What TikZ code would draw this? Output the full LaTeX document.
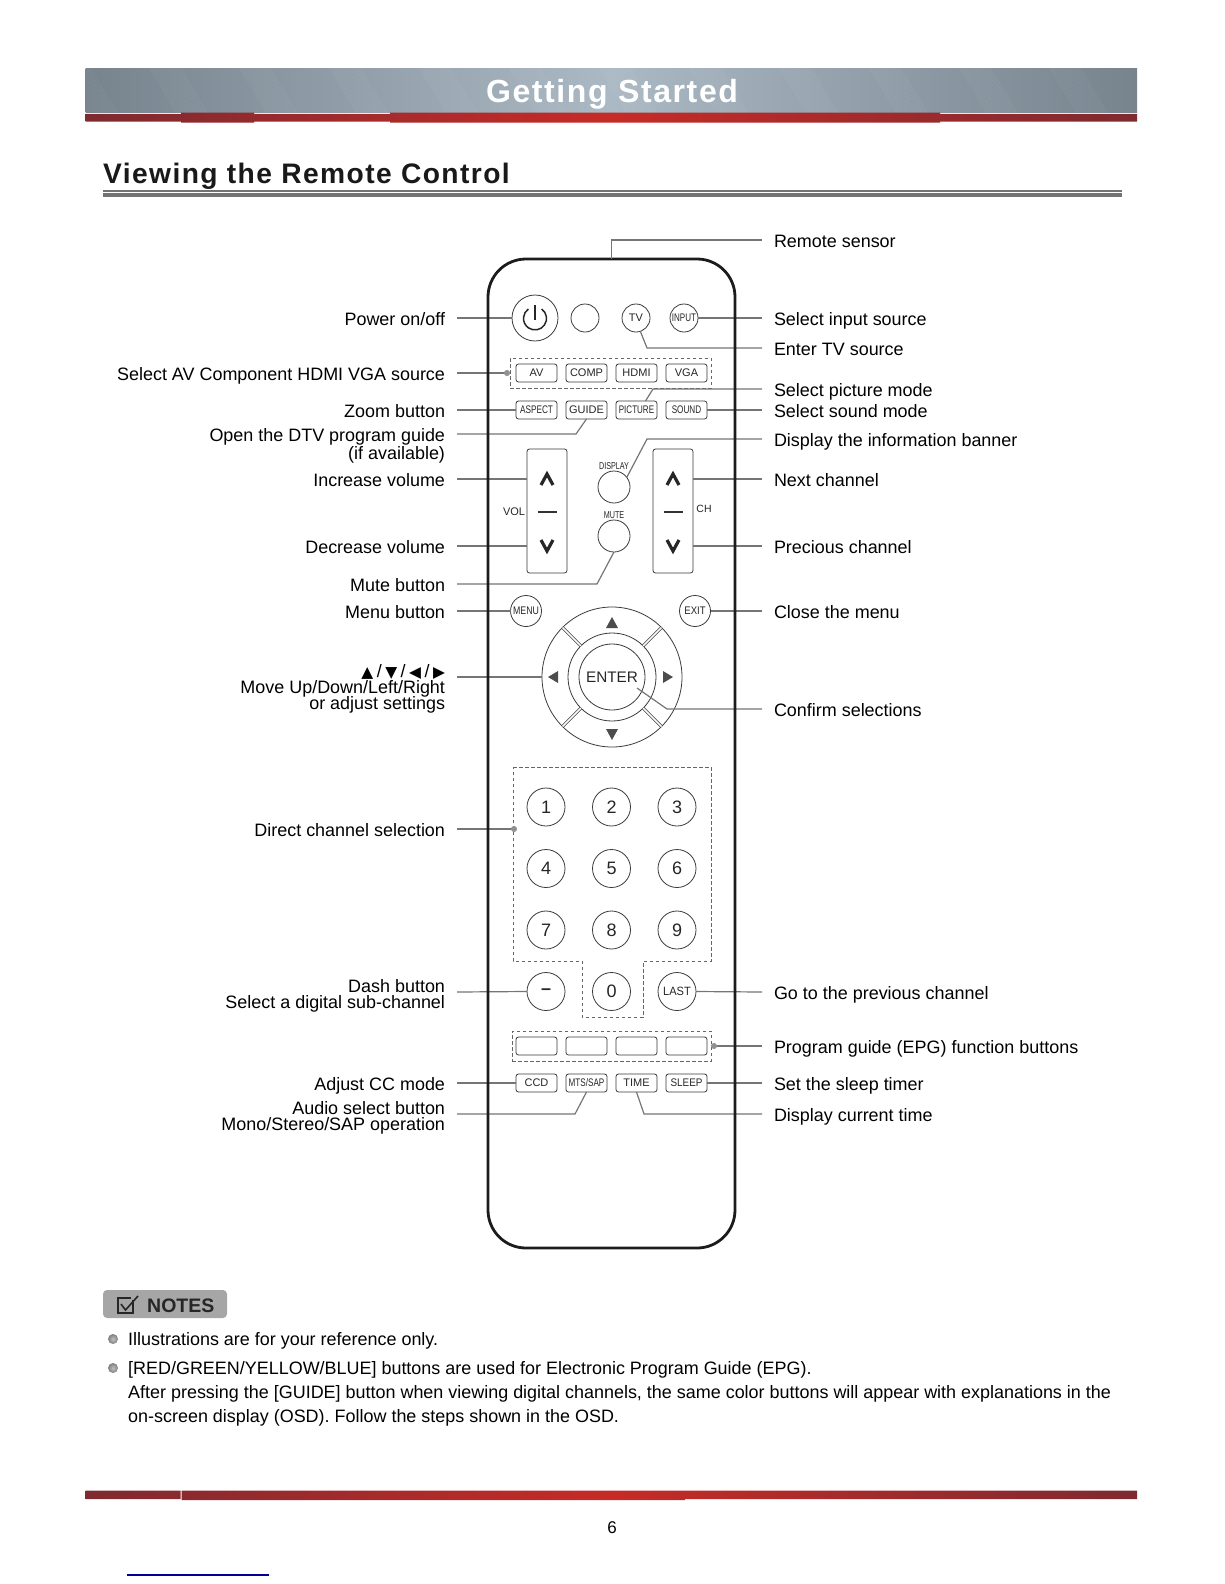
\documentclass[tikz,border=0pt]{standalone}
\usepackage{fontspec}
\usepackage{tikz}
\usetikzlibrary{
	arrows.meta,
	positioning,
	calc
}
\setmainfont{Liberation Sans}
\newfontfamily\simbolos{DejaVu Sans}
\newfontfamily\espacada[LetterSpace=5]{Liberation Sans}
\newcommand{\apertado}[2]{\scalebox{#1}[1]{#2}}
\newcommand{\tri}[1]{{\simbolos\fontsize{15.5}{16}\selectfont #1}}

\definecolor{guia}{HTML}{757575}
\definecolor{contorno}{HTML}{3A3A3A}
\definecolor{corpo}{HTML}{1C1C1C}
\definecolor{vermelho}{HTML}{C62B27}
\definecolor{vinho}{HTML}{7E2A30}
\definecolor{faixaa}{HTML}{77838D}
\definecolor{faixab}{HTML}{ABB9C4}

\begin{document}
\begin{tikzpicture}[
			x=1pt,
			y=-1pt,
			font=\fontsize{17.95}{18}\selectfont,
			esq/.style={anchor=east, inner sep=0pt, text height=14.4pt, text depth=0pt, outer xsep=12pt, outer ysep=0pt},
			dir/.style={anchor=west, inner sep=0pt, text height=14.4pt, text depth=0pt, outer xsep=12pt, outer ysep=0pt},
			nota/.style={anchor=west, inner sep=0pt, text height=12.6pt, text depth=0pt},
			guialinha/.style={draw=guia, line width=1.2pt},
			componto/.style={guialinha, -{Circle[length=6pt, color=guia!80]}},
			tecla/.style={
					draw=contorno,
					line width=0.8pt,
					rounded corners=2.5pt,
					minimum width=41pt,
					minimum height=18pt,
					inner sep=0pt,
					outer sep=0pt,
					text=black!85,
					font=\fontsize{11}{11}\selectfont
				},
			redondo/.style={
					draw=contorno,
					line width=0.8pt,
					circle,
					minimum size=#1,
					inner sep=0pt,
					outer sep=0pt,
					text=black!85,
					font=\fontsize{11}{11}\selectfont
				},
			redondo/.default=28pt,
			numero/.style={redondo=38pt, font=\fontsize{18}{18}\selectfont},
			tracado/.style={draw=black!60, line width=0.8pt, dash pattern=on 3.5pt off 2.5pt},
			divisa/.style={line width=3.2pt, draw=black!85},
			traco/.style={line width=1.4pt, draw=black!80},
			seta/.style={fill=black!70, draw=none},
			pequeno/.style={inner sep=0pt, text=black!85, font=\fontsize{11}{11}\selectfont}
		]
		\useasboundingbox (0,0) rectangle (1224,1584);

		% cabecalho
		\shade[left color=faixaa, right color=faixaa, middle color=faixab] (85.5,68.5) rectangle (1137,113);
		\begin{scope}
			\clip (85.5,68.5) rectangle (1137,113);
			\foreach \g in {60,150,...,1140} {
				\foreach \d in {0,2.5,...,30} {
					\draw[white, opacity=0.09, line width=0.5pt] (\g+\d,68) -- (\g+\d+27,113);
				}
			}
		\end{scope}
		\begin{scope}
			\clip (85.5,114) rectangle (1137,121.7) (181,112.7) rectangle (254,122.7) (390,112.7) rectangle (940,122.7);
			\shade[left color=vinho, right color=vinho, middle color=vermelho] (85.5,112) rectangle (1137,123);
		\end{scope}
		\node[anchor=base, inner sep=0pt, text=white, font=\fontsize{32}{32}\selectfont\espacada\bfseries] (titulo) at (612,103) {Getting Started};
		\node[anchor=base west, inner sep=0pt, text=black!90, font=\fontsize{28.2}{28}\selectfont\espacada\bfseries] (secao) at (103,183.5) {Viewing the Remote Control};
		\fill[black!55] (103,190) rectangle (1121.5,191.5);
		\fill[black!55] (103,193) rectangle (1121.5,197);

		% teclas
		\node[redondo=46pt] (bPower) at (535,318) {};
		\draw[line width=1.5pt, black!85] (bPower.center) ++(6.6,-9) arc[start angle=-55, end angle=235, radius=11.5];
		\draw[line width=1.5pt, black!85] (535,305) -- (535,320);
		\node[redondo] (bBlank) at (585,318) {};
		\node[redondo] (bTV) at (636,318) {TV};
		\node[redondo] (bInput) at (684,318) {\apertado{0.73}{INPUT}};

		\node[tecla] (bAV) at (536.5,373) {AV};
		\node[tecla, right=9pt of bAV] (bComp) {COMP};
		\node[tecla, right=9pt of bComp] (bHdmi) {HDMI};
		\node[tecla, right=9pt of bHdmi] (bVga) {VGA};
		\node[tracado, minimum width=201pt, minimum height=30pt, inner sep=0pt, outer sep=0pt] (caixaAV) at (610.5,373) {};

		\node[tecla] (bAspect) at (536.5,410) {\apertado{0.75}{ASPECT}};
		\node[tecla, right=9pt of bAspect] (bGuide) {GUIDE};
		\node[tecla, right=9pt of bGuide] (bPicture) {\apertado{0.73}{PICTURE}};
		\node[tecla, right=9pt of bPicture] (bSound) {\apertado{0.74}{SOUND}};

		\node[tecla, minimum width=40pt, minimum height=124pt] (bVol) at (547,511) {};
		\node[tecla, minimum width=40pt, minimum height=124pt] (bCh) at (673,511) {};
		\draw[divisa] (541,485) -- (547,474) -- (553,485);
		\draw[divisa] (667,485) -- (673,474) -- (679,485);
		\draw[traco] (537.5,512) -- (556.5,512);
		\draw[traco] (663.5,512) -- (682.5,512);
		\draw[divisa] (541,540) -- (547,551) -- (553,540);
		\draw[divisa] (667,540) -- (673,551) -- (679,540);
		\node[pequeno] (tVol) at (514,512) {VOL};
		\node[pequeno, font=\fontsize{10.5}{11}\selectfont] (tCh) at (704,509) {CH};
		\node[redondo=32pt] (bDisplay) at (614,487) {};
		\node[redondo=32pt] (bMute) at (614,536) {};
		\node[pequeno, above=1pt of bDisplay, font=\fontsize{10}{10}\selectfont] (tDisplay) {\apertado{0.72}{DISPLAY}};
		\node[pequeno, above=1pt of bMute, font=\fontsize{10}{10}\selectfont] (tMute) {\apertado{0.72}{MUTE}};

		\node[redondo=31pt] (bMenu) at (526,611) {\apertado{0.8}{MENU}};
		\node[redondo=31pt] (bExit) at (695,611) {\apertado{0.87}{EXIT}};

		\node[redondo=140pt] (cExt) at (612,677) {};
		\node[redondo=88pt] (cMed) at (612,677) {};
		\node[redondo=66pt, font=\fontsize{15.3}{16}\selectfont] (bEnter) at (612,677) {ENTER};
		\foreach \a in {45,135,225,315} {
			\draw[line width=0.7pt, draw=contorno, double=white, double distance=1.6pt] (cExt.\a) -- (cMed.\a);
		}
		\fill[seta] (606,628) -- (618,628) -- (612,617) -- cycle;
		\fill[seta] (606,729) -- (618,729) -- (612,740) -- cycle;
		\fill[seta] (558,671) -- (558,683) -- (548,677) -- cycle;
		\fill[seta] (663,671) -- (663,683) -- (673,677) -- cycle;

		\draw[tracado] (513,767) -- (711,767) -- (711,961) -- (643,961) -- (643,1017) -- (582,1017) -- (582,961) -- (513,961) -- cycle;
		\node[numero] (n1) at (546,807) {1};
		\node[numero, right=27.5pt of n1] (n2) {2};
		\node[numero, right=27.5pt of n2] (n3) {3};
		\node[numero, below=23.5pt of n1] (n4) {4};
		\node[numero, right=27.5pt of n4] (n5) {5};
		\node[numero, right=27.5pt of n5] (n6) {6};
		\node[numero, below=23.5pt of n4] (n7) {7};
		\node[numero, right=27.5pt of n7] (n8) {8};
		\node[numero, right=27.5pt of n8] (n9) {9};
		\node[numero, below=23.5pt of n7] (bDash) {\raisebox{-1pt}{\bfseries --}};
		\node[numero, right=27.5pt of bDash] (n0) {0};
		\node[redondo=38pt, font=\fontsize{12}{12}\selectfont, right=27.5pt of n0] (bLast) {\apertado{0.92}{LAST}};

		\node[tecla] (bCorA) at (536.5,1046) {};
		\node[tecla, right=9pt of bCorA] (bCorB) {};
		\node[tecla, right=9pt of bCorB] (bCorC) {};
		\node[tecla, right=9pt of bCorC] (bCorD) {};
		\node[tracado, minimum width=199pt, minimum height=30pt, inner sep=0pt, outer sep=0pt] (caixaCor) at (611.5,1046) {};

		\node[tecla] (bCcd) at (536.5,1083) {CCD};
		\node[tecla, right=9pt of bCcd] (bMts) {\apertado{0.74}{MTS/SAP}};
		\node[tecla, right=9pt of bMts] (bTime) {TIME};
		\node[tecla, right=9pt of bTime] (bSleep) {\apertado{0.9}{SLEEP}};

		% textos da esquerda
		\node[esq] (lPower) at (457,318) {Power on/off};
		\node[esq] (lFonte) at (457,373) {Select AV Component HDMI VGA source};
		\node[esq] (lZoom) at (457,410) {Zoom button};
		\node[esq] (lGuia) at (457,434) {Open the DTV program guide};
		\node[esq] (lGuiab) at (457,452) {(if available)};
		\node[esq] (lMais) at (457,479) {Increase volume};
		\node[esq] (lMenos) at (457,546) {Decrease volume};
		\node[esq] (lMudo) at (457,584) {Mute button};
		\node[esq] (lMenu) at (457,611) {Menu button};
		\node[esq] (lSetas) at (457,670) {\tri{▲}\hspace{3.5pt}/\hspace{3.5pt}\tri{▼}\hspace{3.5pt}/\hspace{3.5pt}\tri{◀}\hspace{3.5pt}/\hspace{3.5pt}\tri{▶}};
		\node[esq] (lSetasb) at (457,686) {Move Up/Down/Left/Right};
		\node[esq] (lSetasc) at (457,702) {or adjust settings};
		\node[esq] (lCanal) at (457,829) {Direct channel selection};
		\node[esq] (lTraco) at (457,985) {Dash button};
		\node[esq] (lTracob) at (457,1001) {Select a digital sub-channel};
		\node[esq] (lCC) at (457,1083) {Adjust CC mode};
		\node[esq] (lAudio) at (457,1107) {Audio select button};
		\node[esq] (lAudiob) at (457,1123) {Mono/Stereo/SAP operation};

		% textos da direita
		\node[dir] (rSensor) at (762,240) {Remote sensor};
		\node[dir] (rInput) at (762,318) {Select input source};
		\node[dir] (rTV) at (762,348) {Enter TV source};
		\node[dir] (rImagem) at (762,389) {Select picture mode};
		\node[dir] (rSom) at (762,410) {Select sound mode};
		\node[dir] (rInfo) at (762,439) {Display the information banner};
		\node[dir] (rProx) at (762,479) {Next channel};
		\node[dir] (rAnt) at (762,546) {Precious channel};
		\node[dir] (rSair) at (762,611) {Close the menu};
		\node[dir] (rConf) at (762,709) {Confirm selections};
		\node[dir] (rLast) at (762,992) {Go to the previous channel};
		\node[dir] (rEpg) at (762,1046) {Program guide (EPG) function buttons};
		\node[dir] (rSono) at (762,1083) {Set the sleep timer};
		\node[dir] (rHora) at (762,1114) {Display current time};

		% pontos de apoio
		\coordinate (pTV) at (647,348);
		\coordinate (pGuia) at (576,434);
		\coordinate (pImagem) at (653,389);
		\coordinate (pInfo) at (647,439);
		\coordinate (pMudo) at (597,584);
		\coordinate (lSetasm) at (457,677);
		\coordinate (pEnter) at (637,688);
		\coordinate (pConf) at (667,709);
		\coordinate (pCanal) at (517,829);
		\coordinate (lTracom) at (457,992);
		\coordinate (lAudiom) at (457,1114);
		\coordinate (pAudio) at (575,1114);
		\coordinate (pHora) at (644,1114);

		% ligacoes
		\draw[guialinha] (lPower.east) -- (bPower.west);
		\draw[componto] (lFonte.east) -- (caixaAV.west);
		\draw[guialinha] (lZoom.east) -- (bAspect.west);
		\draw[guialinha] (lGuia.east) -- (pGuia) -- (bGuide.south);
		\draw[guialinha] (lMais.east) -- (lMais.east -| bVol.west);
		\draw[guialinha] (lMenos.east) -- (lMenos.east -| bVol.west);
		\draw[guialinha] (lMudo.east) -- (pMudo) -- (bMute.south);
		\draw[guialinha] (lMenu.east) -- (bMenu.west);
		\draw[guialinha] (lSetasm) -- (cExt.west);
		\draw[componto] (lCanal.east) -- (pCanal);
		\draw[guialinha] (lTracom) -- (bDash.west);
		\draw[guialinha] (lCC.east) -- (bCcd.west);
		\draw[guialinha] (lAudiom) -- (pAudio) -- (bMts.south);

		\draw[guialinha] (rInput.west) -- (bInput.east);
		\draw[guialinha] (rTV.west) -- (pTV) -- (bTV.-72);
		\draw[guialinha] (rImagem.west) -- (pImagem) -- ([xshift=9pt]bPicture.north);
		\draw[guialinha] (rSom.west) -- (bSound.east);
		\draw[guialinha] (rInfo.west) -- (pInfo) -- (bDisplay.37);
		\draw[guialinha] (rProx.west) -- (rProx.west -| bCh.east);
		\draw[guialinha] (rAnt.west) -- (rAnt.west -| bCh.east);
		\draw[guialinha] (rSair.west) -- (bExit.east);
		\draw[guialinha] (rConf.west) -- (pConf) -- (pEnter);
		\draw[guialinha] (rLast.west) -- (bLast.east);
		\draw[componto] (rEpg.west) -- (caixaCor.east);
		\draw[guialinha] (rSono.west) -- (bSleep.east);
		\draw[guialinha] (rHora.west) -- (pHora) -- (bTime.south);

		% corpo do controle
		\node[draw=corpo, line width=2.8pt, rounded corners=38pt, minimum width=247pt, minimum height=989pt, inner sep=0pt, outer sep=0pt] (corpo) at (611.5,753.5) {};
		\draw[guialinha] (rSensor.west) -| (corpo.north);

		% notas
		\node[fill=black!35, rounded corners=4pt, minimum width=124pt, minimum height=28pt, inner sep=0pt] (etiqueta) at (165,1304) {};
		\draw[line width=1.6pt, black!85] (133,1300) -- (133,1313) -- (118,1313) -- (118,1298) -- (131,1298);
		\draw[line width=1.6pt, black!85] (121,1304) -- (125.5,1310) -- (138,1296);
		\node[nota, font=\fontsize{19.5}{20}\selectfont\bfseries, text=black!85] (tNotas) at (147,1306) {NOTES};
		\shade[inner color=black!25, outer color=black!50] (113,1339) circle[radius=5];
		\shade[inner color=black!25, outer color=black!50] (113,1368) circle[radius=5];
		\node[nota] (n1a) at (128,1339) {Illustrations are for your reference only.};
		\node[nota] (n2a) at (128,1368) {[RED/GREEN/YELLOW/BLUE] buttons are used for Electronic Program Guide (EPG).};
		\node[nota] (n2b) at (128,1392) {After pressing the [GUIDE] button when viewing digital channels, the same color buttons will appear with explanations in the};
		\node[nota] (n2c) at (128,1416) {on-screen display (OSD). Follow the steps shown in the OSD.};

		% rodape
		\begin{scope}
			\clip (85.5,1490.7) rectangle (180.5,1499) (181.5,1490.7) rectangle (685,1500) (685,1490.7) rectangle (1137,1499);
			\shade[left color=vinho, right color=vinho, middle color=vermelho] (85.5,1490) rectangle (1137,1501);
		\end{scope}
		\node[inner sep=0pt, font=\fontsize{17}{17}\selectfont] (pagina) at (612,1528) {6};
		\fill[blue!60!black] (127,1574.3) rectangle (269,1575.7);
	\end{tikzpicture}
\end{document}
